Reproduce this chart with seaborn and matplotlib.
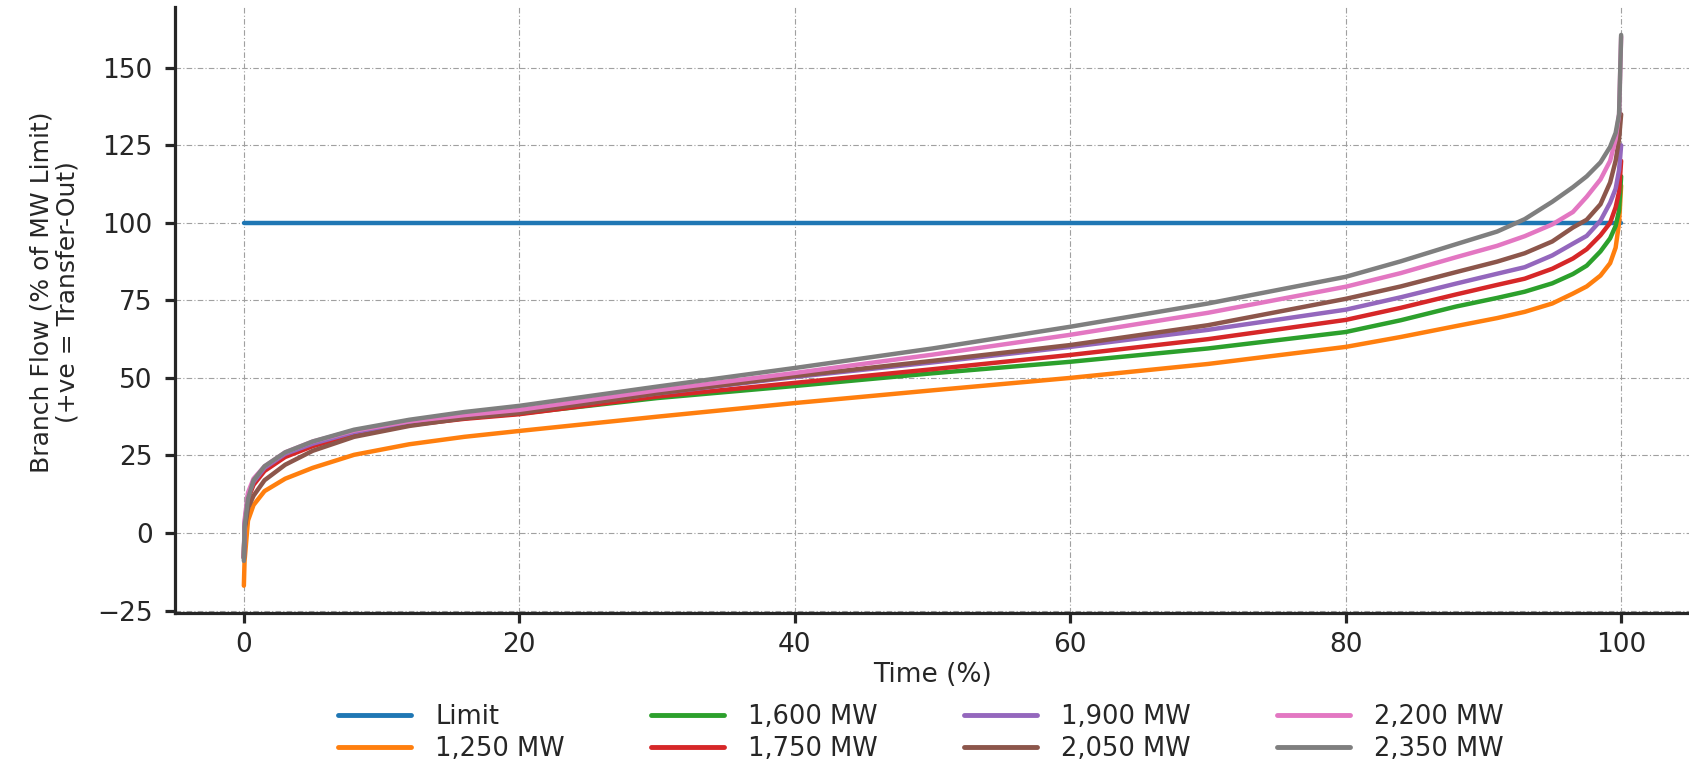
import numpy as np
import pandas as pd
import matplotlib
matplotlib.use("Agg")
import matplotlib.pyplot as plt
import seaborn as sns

# ---------------- data ----------------
time_pct = [0, 0.05, 0.3, 0.7, 1.5, 3, 5, 8, 12, 16, 20, 30, 40, 50, 60, 70, 80,
            84, 88, 91, 93, 95, 96.5, 97.5, 98.5, 99.2, 99.6, 99.85, 100]

flow_1250 = [-17, -9, 4, 9, 13.5, 17.5, 21, 25.2, 28.6, 31, 32.9, 37.5, 41.9, 46, 50,
             54.5, 60, 63.2, 66.7, 69.3, 71.3, 74, 77.2, 79.5, 83, 87, 92, 100, 112]
flow_1600 = [-8, 2, 12, 16, 20.5, 25, 28.5, 32, 35, 37, 38.5, 43.5, 47.4, 51.5, 55.2,
             59.5, 64.8, 68.6, 73, 75.8, 77.8, 80.5, 83.5, 86.2, 90.8, 95, 99, 104, 115]
flow_1750 = [-8, 2, 11, 15.5, 20, 24.5, 28, 31.8, 34.8, 36.8, 38.3, 44, 48.4, 52.8, 57.4,
             62.5, 68.7, 72.6, 76.9, 80, 82, 85.2, 88.5, 91.5, 96, 100, 105, 110, 120]
flow_1900 = [-8, 3, 12, 16.5, 21, 25.5, 28.8, 32.5, 35.5, 37.5, 39, 45, 50.3, 55, 60,
             65.5, 72, 76, 80.4, 83.6, 85.7, 89.5, 93.3, 95.8, 100.7, 106.5, 111, 117, 125]
flow_2050 = [-8, 1, 8, 12, 17, 22, 26.5, 31, 34.5, 37, 38.7, 45, 50.6, 55.5, 60.6,
             67, 75.5, 79.5, 84.1, 87.5, 90.2, 94, 98.5, 101, 106, 113, 120, 127, 135]
flow_2200 = [-8, 4, 13, 17.5, 21.5, 26, 29.5, 33, 36, 38, 39.7, 46, 51.6, 57.5, 63.9,
             71, 79.4, 83.8, 88.9, 92.6, 95.7, 99.5, 103.5, 108.4, 114, 120, 127, 135, 160]
flow_2350 = [-9, 2, 11, 17, 21.5, 26, 29.5, 33.3, 36.5, 39, 41, 47.2, 53.2, 59.5, 66.5,
             74, 82.6, 87.6, 93.1, 97.2, 101.2, 106.8, 111.5, 115, 119.5, 124.5, 129, 135, 160.6]

limit_time = [0, 100]
limit_value = [100, 100]

series_labels = ["1,250 MW", "1,600 MW", "1,750 MW", "1,900 MW",
                 "2,050 MW", "2,200 MW", "2,350 MW"]
series_values = [flow_1250, flow_1600, flow_1750, flow_1900,
                 flow_2050, flow_2200, flow_2350]

# ---------------- figure ----------------
sns.set_style("ticks")
plt.rcParams["font.family"] = ["DejaVu Sans"]

fig = plt.figure(figsize=(16.9, 7.65), dpi=100)
ax = fig.add_axes([175 / 1690, 1 - 613 / 765, (1690 - 175) / 1690, 606 / 765])

rows = []
for lab, vals in zip(series_labels, series_values):
    for t, v in zip(time_pct, vals):
        rows.append({"Time": t, "Flow": v, "Series": lab})
for t, v in zip(limit_time, limit_value):
    rows.append({"Time": t, "Flow": v, "Series": "Limit"})
df = pd.DataFrame(rows)

order = ["Limit"] + series_labels
palette = dict(zip(order, sns.color_palette("tab10", 8)))

sns.lineplot(data=df, x="Time", y="Flow", hue="Series", hue_order=order,
             palette=palette, estimator=None, sort=False, linewidth=3.2,
             ax=ax, legend=True)

ax.set_xlim(-5, 105)
ax.set_ylim(-25.8, 169.6)
ax.set_xticks([0, 20, 40, 60, 80, 100])
ax.set_yticks([-25, 0, 25, 50, 75, 100, 125, 150])
ax.set_yticklabels(["\u221225", "0", "25", "50", "75", "100", "125", "150"])

ax.grid(True, color="#a0a0a0", linestyle=(0, (5, 2, 1, 2)), linewidth=0.8)
ax.set_axisbelow(True)
sns.despine(ax=ax)
for s in ["left", "bottom"]:
    ax.spines[s].set_linewidth(2.3)
ax.tick_params(axis="both", length=7, width=2.3, labelsize=19)
ax.tick_params(axis="y", pad=9)
ax.tick_params(axis="x", pad=7)

ax.set_xlabel("Time (%)", fontsize=19)
ax.set_ylabel("Branch Flow (% of MW Limit)\n(+ve = Transfer-Out)", fontsize=18,
              linespacing=1.15)
ax.xaxis.set_label_coords(0.5, (613 - 662) / 606)
ax.yaxis.set_label_coords((80 - 175) / 1515, (613 - 292) / 606)

handles, labels = ax.get_legend_handles_labels()
ax.get_legend().remove()
leg = fig.legend(handles, labels, loc="center", bbox_to_anchor=(921 / 1690, 1 - 733 / 765),
                 ncol=4, frameon=False, fontsize=18.5, handlelength=2.85,
                 handletextpad=0.93, columnspacing=3.35, labelspacing=0.2)
for h in leg.get_lines():
    h.set_linewidth(3.5)

fig.savefig("out.png", dpi=100)
